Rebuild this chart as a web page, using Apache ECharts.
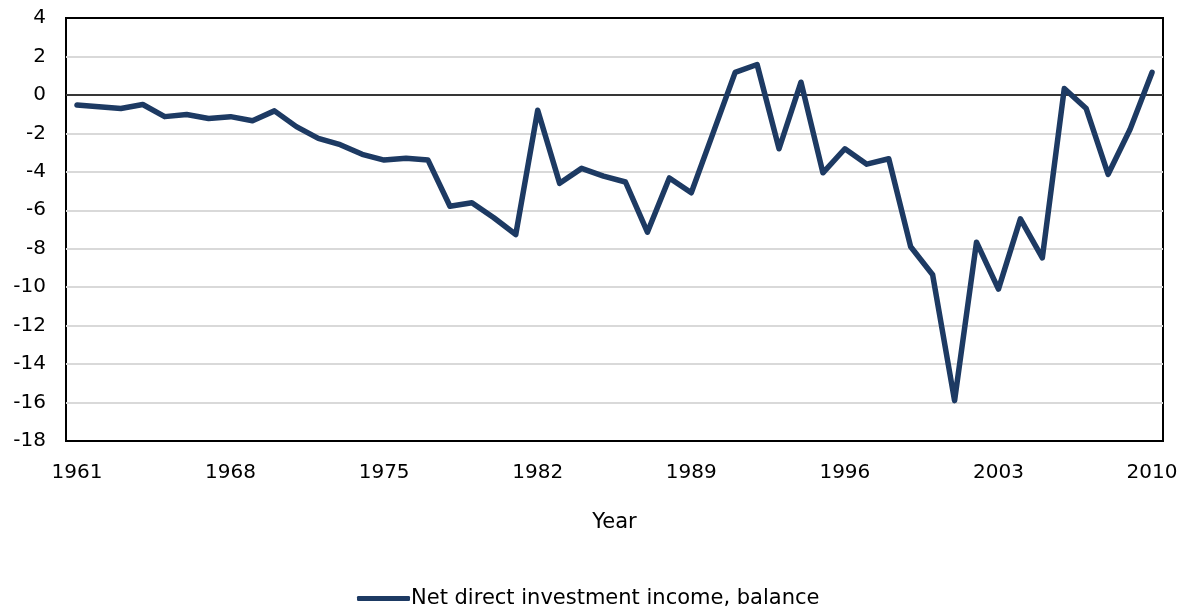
<!DOCTYPE html>
<html>
<head>
<meta charset="utf-8">
<script src="https://cdn.jsdelivr.net/npm/echarts@6/dist/echarts.min.js"></script>
<style>
  html, body { margin: 0; padding: 0; background: #fff; }
  #main { width: 1188px; height: 608px; }
</style>
</head>
<body>
<div id="main"></div>
<script>
// years 1961..2010
var years = [];
for (var y = 1961; y <= 2010; y++) years.push(String(y));

// net direct investment income, balance
var balance = [
  -0.52, -0.62, -0.71, -0.5, -1.13, -1.02, -1.23, -1.13, -1.34, -0.83,
  -1.65, -2.26, -2.59, -3.09, -3.39, -3.3, -3.39, -5.79, -5.61, -6.39,
  -7.26, -0.8, -4.6, -3.82, -4.22, -4.53, -7.14, -4.32, -5.09, -1.96,
  1.17, 1.58, -2.8, 0.66, -4.05, -2.8, -3.6, -3.32, -7.9, -9.35,
  -15.9, -7.66, -10.1, -6.45, -8.48, 0.33, -0.71, -4.13, -1.79, 1.17
];

var seriesName = 'Net direct investment income, balance';
var lineColor = '#1d3a63';
var font = 'DejaVu Sans, Verdana, sans-serif';

var chart = echarts.init(document.getElementById('main'), null, { renderer: 'canvas' });

chart.setOption({
  animation: false,
  textStyle: { fontFamily: font },
  grid: {
    left: 66,
    right: 25,
    top: 18,
    bottom: 167,
    show: true,
    borderColor: '#000',
    borderWidth: 2
  },
  legend: {
    data: [{ name: seriesName, icon: 'roundRect' }],
    left: 352,
    top: 583,
    itemWidth: 53,
    itemHeight: 5,
    itemGap: 6,
    textStyle: { fontSize: 21, color: '#000', fontFamily: font, padding: [0, 0, 0, -4] }
  },
  xAxis: {
    type: 'category',
    data: years,
    boundaryGap: true,
    name: 'Year',
    nameLocation: 'middle',
    nameGap: 71,
    nameTextStyle: { fontSize: 21, color: '#000', fontFamily: font },
    axisLine: { show: true, onZero: true, lineStyle: { color: '#000', width: 1.5 } },
    axisTick: { show: false },
    axisLabel: {
      interval: 6,
      fontSize: 20,
      color: '#000',
      margin: 22,
      fontFamily: font
    },
    splitLine: { show: false }
  },
  yAxis: {
    type: 'value',
    min: -18,
    max: 4,
    interval: 2,
    axisLine: { show: false },
    axisTick: { show: false },
    axisLabel: { fontSize: 20, color: '#000', margin: 20, fontFamily: font },
    splitLine: {
      show: true,
      showMinLine: false,
      showMaxLine: false,
      lineStyle: { color: '#d9d9d9', width: 2 }
    }
  },
  series: [{
    name: seriesName,
    type: 'line',
    data: balance,
    symbol: 'none',
    showSymbol: false,
    lineStyle: { color: lineColor, width: 5.5, cap: 'round', join: 'round' },
    itemStyle: { color: lineColor }
  }]
});
</script>
</body>
</html>
